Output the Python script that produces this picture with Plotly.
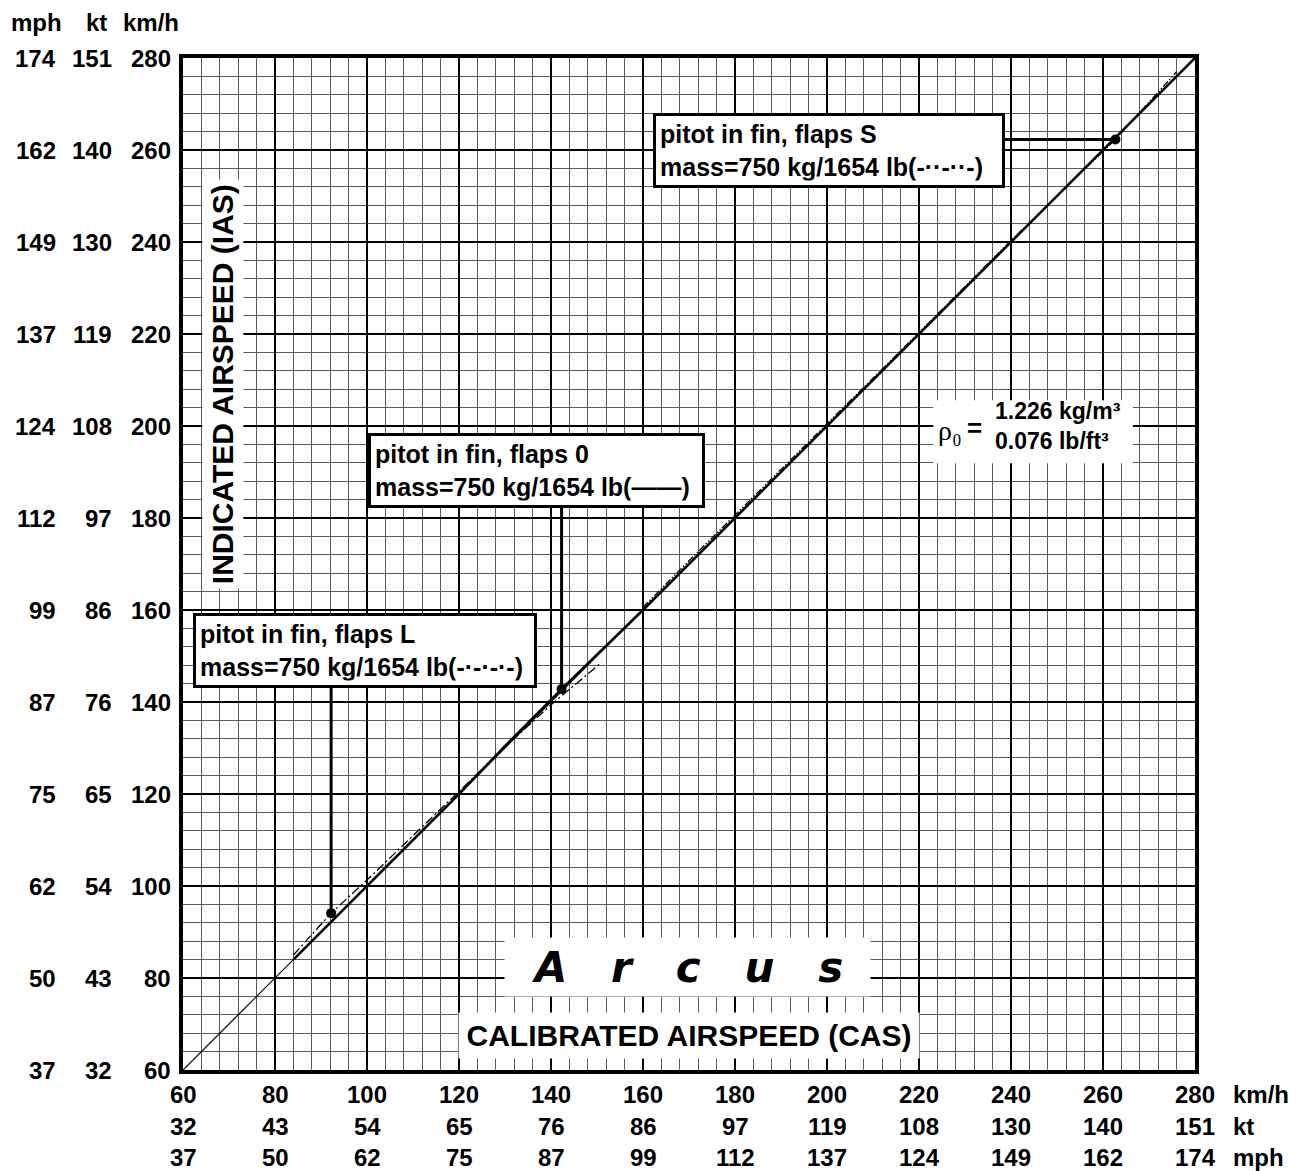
import plotly.graph_objects as go

FONT = "Arial, Liberation Sans, sans-serif"
SERIF = "Times New Roman, Liberation Serif, DejaVu Serif, serif"

# Major grid values in km/h with the kt / mph readings printed beside them
kmh_ticks = [60, 80, 100, 120, 140, 160, 180, 200, 220, 240, 260, 280]
kt_x_labels = ["32", "43", "54", "65", "76", "86", "97", "119", "108", "130", "140", "151"]
mph_x_labels = ["37", "50", "62", "75", "87", "99", "112", "137", "124", "149", "162", "174"]
kt_y_labels = ["32", "43", "54", "65", "76", "86", "97", "108", "119", "130", "140", "151"]
mph_y_labels = ["37", "50", "62", "75", "87", "99", "112", "124", "137", "149", "162", "174"]

# IAS = CAS reference line
ref_cas = [60, 280]
ref_ias = [60, 280]

# pitot in fin, flaps 0 (solid)
f0_cas = [84, 100, 120, 130, 142.3, 160, 180, 200, 220, 240, 260, 280]
f0_ias = [84, 100, 120, 130.4, 142.8, 160, 180, 200, 220, 240, 260, 280]

# pitot in fin, flaps L (dash-dot)
fl_cas = [84, 92.2, 100, 110, 120, 130, 140, 151]
fl_ias = [85, 94.1, 101.3, 111, 120.6, 130.2, 139.4, 148.6]

# pitot in fin, flaps S (dash-dot-dot)
fs_cas = [160, 170, 185, 200, 220, 240, 262.7, 276]
fs_ias = [160.6, 170.7, 185.6, 200.4, 220.3, 240.3, 262.3, 277.0]

# callout points (flaps S, flaps 0, flaps L)
dot_cas = [262.7, 142.3, 92.2]
dot_ias = [262.3, 142.8, 94.1]

fig = go.Figure()
fig.add_trace(go.Scatter(x=ref_cas, y=ref_ias, mode="lines",
                         line=dict(color="black", width=1.2), hoverinfo="skip"))
fig.add_trace(go.Scatter(x=f0_cas, y=f0_ias, mode="lines",
                         line=dict(color="black", width=2.6), name="flaps 0"))
fig.add_trace(go.Scatter(x=fl_cas, y=fl_ias, mode="lines",
                         line=dict(color="black", width=1.3, dash="9px,3px,2px,3px"),
                         name="flaps L"))
fig.add_trace(go.Scatter(x=fs_cas, y=fs_ias, mode="lines",
                         line=dict(color="black", width=1.3,
                                   dash="7px,2px,1.5px,2px,1.5px,2px"),
                         name="flaps S"))
fig.add_trace(go.Scatter(x=dot_cas, y=dot_ias, mode="markers",
                         marker=dict(color="black", size=10), hoverinfo="skip"))

axis_style = dict(
    range=[60, 280], tick0=60, dtick=20,
    showgrid=True, gridcolor="black", gridwidth=2.2,
    minor=dict(tick0=60, dtick=4, showgrid=True, gridcolor="#5a5a5a", gridwidth=1.1),
    showline=True, linecolor="black", linewidth=4, mirror=True,
    showticklabels=False, ticks="", zeroline=False, fixedrange=True,
)

fig.update_layout(
    width=1312, height=1171,
    margin=dict(l=183, r=117, t=58, b=101, autoexpand=False),
    paper_bgcolor="white", plot_bgcolor="white",
    showlegend=False,
    xaxis=axis_style, yaxis=axis_style,
)

tick_font = dict(family=FONT, size=24, color="black", weight="bold")
ann = []

# left-hand scale columns: km/h, kt, mph
for v, kt, mph in zip(kmh_ticks, kt_y_labels, mph_y_labels):
    for txt, shift in ((str(v), -10), (kt, -69), (mph, -125)):
        ann.append(dict(x=0, xref="paper", y=v, yref="y", text=txt, showarrow=False,
                        xanchor="right", yanchor="middle", xshift=shift, font=tick_font))

# column headers
for txt, shift in (("mph", -147), ("kt", -87), ("km/h", -32)):
    ann.append(dict(x=0, xref="paper", y=1, yref="paper", text=txt, showarrow=False,
                    xanchor="center", yanchor="middle", xshift=shift, yshift=36,
                    font=tick_font))

# bottom scale rows: km/h, kt, mph
for v, kt, mph in zip(kmh_ticks, kt_x_labels, mph_x_labels):
    for txt, shift in ((str(v), -24), (kt, -56), (mph, -87)):
        ann.append(dict(x=v, xref="x", y=0, yref="paper", text=txt, showarrow=False,
                        xanchor="center", yanchor="middle", yshift=shift, font=tick_font))

for txt, shift in (("km/h", -24), ("kt", -56), ("mph", -87)):
    ann.append(dict(x=1, xref="paper", y=0, yref="paper", text=txt, showarrow=False,
                    xanchor="left", yanchor="middle", xshift=36, yshift=shift,
                    font=tick_font))

title_font = dict(family=FONT, size=30, color="black", weight="bold")
ann.append(dict(x=68.7, y=209.1, xref="x", yref="y", text="INDICATED AIRSPEED (IAS)",
                textangle=-90, showarrow=False, bgcolor="white", width=406, height=38,
                borderpad=1, font=title_font))
ann.append(dict(x=170.0, y=67.5, xref="x", yref="y", text="CALIBRATED AIRSPEED (CAS)",
                showarrow=False, bgcolor="white", width=458, height=43,
                borderpad=1, font=title_font))

# maker's wordmark
ann.append(dict(x=169.7, y=82.4, xref="x", yref="y", text="<i>A   r   c   u   s</i>",
                showarrow=False, bgcolor="white", width=361, height=54, borderpad=2,
                font=dict(family="DejaVu Sans", size=42, color="black", weight="bold")))

# callout boxes
box_font = dict(family=FONT, size=25, color="black", weight="bold")
boxes = [
    (162.2, 268.0, 338, "pitot in fin, flaps S<br>mass=750 kg/1654 lb(-··-··-)"),
    (100.2, 198.5, 323, "pitot in fin, flaps 0<br>mass=750 kg/1654 lb(——)"),
    (62.2, 159.3, 330, "pitot in fin, flaps L<br>mass=750 kg/1654 lb(-·-·-·-)"),
]
for bx, by, bw, txt in boxes:
    ann.append(dict(x=bx, y=by, xref="x", yref="y", text=txt, showarrow=False,
                    xanchor="left", yanchor="top", align="left",
                    width=bw, bgcolor="white", bordercolor="black",
                    borderwidth=3, borderpad=4, font=box_font))

# air density note
ann.append(dict(x=226.7, y=199.1, xref="x", yref="y", text="ρ₀",
                showarrow=False, font=dict(family=SERIF, size=28, color="black")))
ann.append(dict(x=232.0, y=199.6, xref="x", yref="y", text="=", showarrow=False,
                font=dict(family=FONT, size=26, color="black", weight="bold")))
ann.append(dict(x=236.1, y=199.9, xref="x", yref="y",
                text="1.226 kg/m³<br>0.076 lb/ft³",
                showarrow=False, xanchor="left", yanchor="middle", align="left",
                font=dict(family=FONT, size=23, color="black", weight="bold")))

fig.update_layout(annotations=ann)

shapes = [
    # white patch behind the density note
    dict(type="rect", xref="x", yref="y", x0=223.1, x1=266.5, y0=191.9, y1=205.6,
         fillcolor="white", line=dict(width=0), layer="above"),
    # leader lines from the callout boxes to their points
    dict(type="line", xref="x", yref="y", x0=230, x1=dot_cas[0], y0=dot_ias[0], y1=dot_ias[0],
         line=dict(color="black", width=3), layer="above"),
    dict(type="line", xref="x", yref="y", x0=dot_cas[1], x1=dot_cas[1], y0=190, y1=dot_ias[1],
         line=dict(color="black", width=3), layer="above"),
    dict(type="line", xref="x", yref="y", x0=dot_cas[2], x1=dot_cas[2], y0=150, y1=dot_ias[2],
         line=dict(color="black", width=3), layer="above"),
]
fig.update_layout(shapes=shapes)

fig.write_html("out.html")
